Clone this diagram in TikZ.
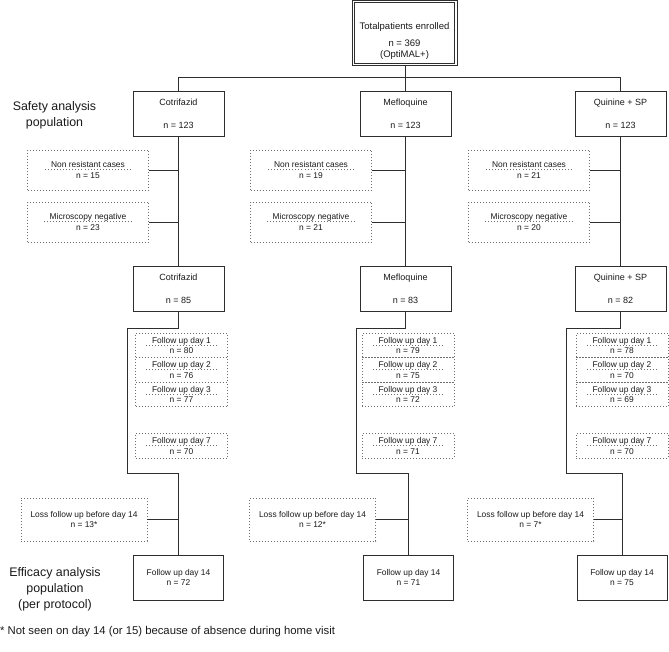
\documentclass[tikz,border=0pt]{standalone}
\usepackage{fontspec}
\setmainfont{Liberation Sans}
\usetikzlibrary{positioning}

\definecolor{linegray}{HTML}{2E2E2E}
\definecolor{dotgray}{HTML}{6E6E6E}

% first line of a dotted box, with the dotted rule under it
\newsavebox{\hdbox}
\newcommand{\hd}[1]{\sbox{\hdbox}{#1}\leavevmode\rlap{\hskip-7pt\raisebox{-2.4pt}{\color{dotgray}\hbox to \dimexpr\wd\hdbox+14pt\relax{\xleaders\hbox to 3pt{\hss\rule{0.9pt}{0.9pt}\hss}\hfill}}}\usebox{\hdbox}}

\begin{document}
\begin{tikzpicture}[
    x=1pt, y=-1pt,
    every node/.style={font=\fontsize{8.4}{10.5}\selectfont, text=black!90},
    box/.style={draw=linegray, line width=0.9pt, inner sep=0pt, outer sep=0pt, align=center},
    totalbox/.style={box, line width=0.8pt, minimum width=105pt, minimum height=65pt, font=\fontsize{9.5}{11}\selectfont},
    armbox/.style={box, minimum width=91pt, minimum height=45pt, font=\fontsize{9}{11}\selectfont},
    finalbox/.style={box, minimum width=90pt, minimum height=45pt},
    dropbox/.style={draw=dotgray, line width=0.9pt, dash pattern=on 0.9pt off 2.1pt, inner sep=0pt, outer sep=0pt, align=center, minimum width=121pt, minimum height=40pt},
    followbox/.style={dropbox, minimum width=92pt, minimum height=24.5pt},
    lossbox/.style={dropbox, minimum width=126pt, minimum height=43pt},
    flowline/.style={draw=linegray, line width=0.9pt},
    poplabel/.style={align=center, font=\fontsize{12.4}{15.8}\selectfont},
]
\useasboundingbox (0,0) rectangle (669,652);

% ---- Top: all patients ----
\node[totalbox] (total) at (404.5,33) {\rule{0pt}{23pt}Totalpatients enrolled\\[6pt] n = 369\\ (OptiMAL+)};
\draw[flowline, line width=0.8pt] ([xshift=2.2pt,yshift=-2.2pt]total.north west) rectangle ([xshift=-2.2pt,yshift=2.2pt]total.south east);
\node[armbox] (cot1) at (178.5,113.5) {Cotrifazid\\[12pt] n = 123};
\node[armbox] (mef1) at (405.5,113.5) {Mefloquine\\[12pt] n = 123};
\node[armbox] (qui1) at (620.5,113.5) {Quinine + SP\\[12pt] n = 123};
\coordinate (split) at (405.5,77);

\draw[flowline] (total.south -| mef1) -- (mef1);
\draw[flowline] (cot1.north) -- (cot1.north |- split) -- (qui1.north |- split) -- (qui1.north);

% ---- Population labels ----
\node[poplabel] (safety) at (54.5,115) {Safety analysis\\ population};
\node[poplabel] (efficacy) at (55,589) {Efficacy analysis\\ population\\ (per protocol)};

% ---- Cotrifazid ----
\node[dropbox] (nr1) at (88,170) {\hd{Non resistant cases}\\ n = 15};
\node[dropbox] (mn1) at (88,222) {\hd{Microscopy negative}\\ n = 23};
\node[armbox] (cot2) at (178.5,289) {Cotrifazid\\[12pt] n = 85};
\node[followbox] (fa1) at (181.5,345.5) {\hd{Follow up day 1}\\ n = 80};
\node[followbox, below=0pt of fa1] (fb1) {\hd{Follow up day 2}\\ n = 76};
\node[followbox, below=0pt of fb1] (fc1) {\hd{Follow up day 3}\\ n = 77};
\node[followbox] (fd1) at (181.5,446) {\hd{Follow up day 7}\\ n = 70};
\node[lossbox] (ls1) at (84,519.5) {Loss follow up before day 14\\ n = 13*};
\node[finalbox] (fin1) at (178.5,577.5) {Follow up day 14\\ n = 72};
\coordinate (by1) at (127,328);
\coordinate (bz1) at (127,473);

\draw[flowline] (cot1) -- (cot2);
\draw[flowline] (nr1) -- (nr1 -| cot1);
\draw[flowline] (mn1) -- (mn1 -| cot1);
\draw[flowline] (cot2.south) |- (by1) -- (bz1) -| (fin1.north);
\draw[flowline] (ls1) -- (ls1 -| fin1);

% ---- Mefloquine ----
\node[dropbox] (nr2) at (311,170) {\hd{Non resistant cases}\\ n = 19};
\node[dropbox] (mn2) at (311,222) {\hd{Microscopy negative}\\ n = 21};
\node[armbox] (mef2) at (405.5,289) {Mefloquine\\[12pt] n = 83};
\node[followbox] (fa2) at (408,345.5) {\hd{Follow up day 1}\\ n = 79};
\node[followbox, below=0pt of fa2] (fb2) {\hd{Follow up day 2}\\ n = 75};
\node[followbox, below=0pt of fb2] (fc2) {\hd{Follow up day 3}\\ n = 72};
\node[followbox] (fd2) at (408,446) {\hd{Follow up day 7}\\ n = 71};
\node[lossbox] (ls2) at (312.5,519.5) {Loss follow up before day 14\\ n = 12*};
\node[finalbox] (fin2) at (408.5,577.5) {Follow up day 14\\ n = 71};
\coordinate (by2) at (356,328);
\coordinate (bz2) at (356,473);

\draw[flowline] (mef1) -- (mef2);
\draw[flowline] (nr2) -- (nr2 -| mef1);
\draw[flowline] (mn2) -- (mn2 -| mef1);
\draw[flowline] (mef2.south) |- (by2) -- (bz2) -| (fin2.north);
\draw[flowline] (ls2) -- (ls2 -| fin2);

% ---- Quinine + SP ----
\node[dropbox] (nr3) at (529,170) {\hd{Non resistant cases}\\ n = 21};
\node[dropbox] (mn3) at (529,222) {\hd{Microscopy negative}\\ n = 20};
\node[armbox] (qui2) at (620.5,289) {Quinine + SP\\[12pt] n = 82};
\node[followbox] (fa3) at (622,345.5) {\hd{Follow up day 1}\\ n = 78};
\node[followbox, below=0pt of fa3] (fb3) {\hd{Follow up day 2}\\ n = 70};
\node[followbox, below=0pt of fb3] (fc3) {\hd{Follow up day 3}\\ n = 69};
\node[followbox] (fd3) at (622,446) {\hd{Follow up day 7}\\ n = 70};
\node[lossbox] (ls3) at (530.5,519.5) {Loss follow up before day 14\\ n = 7*};
\node[finalbox] (fin3) at (622,577.5) {Follow up day 14\\ n = 75};
\coordinate (by3) at (566,328);
\coordinate (bz3) at (566,473);

\draw[flowline] (qui1) -- (qui2);
\draw[flowline] (nr3) -- (nr3 -| qui1);
\draw[flowline] (mn3) -- (mn3 -| qui1);
\draw[flowline] (qui2.south) |- (by3) -- (bz3) -| (fin3.north);
\draw[flowline] (ls3) -- (ls3 -| fin3);

% ---- Footnote ----
\node[anchor=west, inner sep=0pt, font=\fontsize{11.3}{13}\selectfont] (note) at (0,632) {* Not seen on day 14 (or 15) because of absence during home visit};

\end{tikzpicture}
\end{document}
